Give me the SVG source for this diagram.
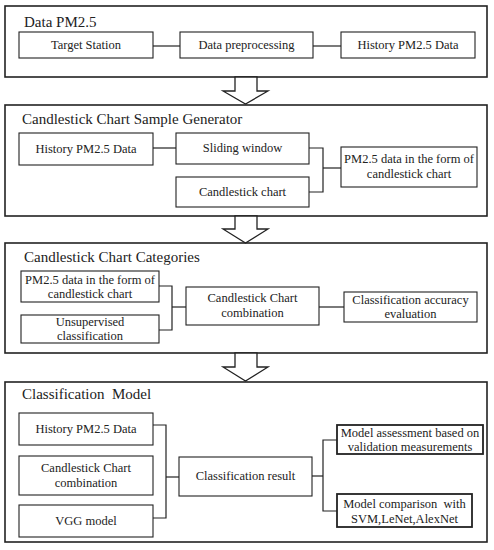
<svg xmlns="http://www.w3.org/2000/svg" width="494" height="550" viewBox="0 0 494 550" font-family="Liberation Serif, DejaVu Serif, serif">
<style>
.panel{fill:#fff;stroke:#222;stroke-width:1.6}
.box{fill:#fff;stroke:#222;stroke-width:1.1}
.bold{fill:#fff;stroke:#222;stroke-width:1.8}
.conn{fill:none;stroke:#222;stroke-width:1.2}
.arrow{fill:#fff;stroke:#222;stroke-width:1.3;stroke-linejoin:miter}
text{font-family:'Liberation Serif','DejaVu Serif',serif;fill:#222}
.t{font-size:15px}
.l{font-size:12.5px;text-anchor:middle}
</style>
<rect width="494" height="550" fill="#fff"/>

<g id="panel1">
<rect class="panel" x="5" y="6" width="482" height="71"/>
<text class="t" x="24" y="27">Data PM2.5</text>
</g>
<g id="target-station"><rect class="box" x="19" y="32" width="134" height="26"/><text class="l" x="86" y="49">Target Station</text></g>
<g id="data-preprocessing"><rect class="box" x="180" y="32" width="133" height="26"/><text class="l" x="246.5" y="49">Data preprocessing</text></g>
<g id="history-1"><rect class="box" x="341" y="32" width="134" height="26"/><text class="l" x="408" y="49">History PM2.5 Data</text></g>

<g id="panel2">
<rect class="panel" x="5" y="105" width="482" height="111"/>
<text class="t" x="22" y="124">Candlestick Chart Sample Generator</text>
</g>
<g id="history-2"><rect class="box" x="19" y="133" width="134" height="32"/><text class="l" x="86" y="153">History PM2.5 Data</text></g>
<g id="sliding-window"><rect class="box" x="176" y="133" width="133" height="31"/><text class="l" x="242.5" y="152">Sliding window</text></g>
<g id="candlestick-chart"><rect class="box" x="176" y="177" width="133" height="30"/><text class="l" x="242.5" y="196">Candlestick chart</text></g>
<g id="pm25-form-1"><rect class="box" x="341" y="147" width="136" height="40"/><text class="l" x="409" y="163">PM2.5 data in the form of</text><text class="l" x="409" y="178">candlestick chart</text></g>

<g id="panel3">
<rect class="panel" x="5" y="243" width="482" height="110"/>
<text class="t" x="24" y="262">Candlestick Chart Categories</text>
</g>
<g id="pm25-form-2"><rect class="box" x="21" y="271" width="138" height="31"/><text class="l" x="90" y="284">PM2.5 data in the form of</text><text class="l" x="90" y="298">candlestick chart</text></g>
<g id="unsupervised"><rect class="box" x="21" y="315" width="138" height="28"/><text class="l" x="90" y="326">Unsupervised</text><text class="l" x="90" y="340">classification</text></g>
<g id="combination-1"><rect class="box" x="186" y="287" width="133" height="38"/><text class="l" x="252.5" y="302">Candlestick Chart</text><text class="l" x="252.5" y="317">combination</text></g>
<g id="accuracy"><rect class="box" x="344" y="292" width="133" height="30"/><text class="l" x="410.5" y="304">Classification accuracy</text><text class="l" x="410.5" y="318">evaluation</text></g>

<g id="panel4">
<rect class="panel" x="5" y="382" width="482" height="160"/>
<text class="t" x="22" y="399" xml:space="preserve">Classification  Model</text>
</g>
<g id="history-3"><rect class="box" x="19" y="413" width="134" height="32"/><text class="l" x="86" y="433">History PM2.5 Data</text></g>
<g id="combination-2"><rect class="box" x="19" y="456" width="134" height="39"/><text class="l" x="86" y="472">Candlestick Chart</text><text class="l" x="86" y="487">combination</text></g>
<g id="vgg"><rect class="box" x="19" y="505" width="134" height="32"/><text class="l" x="86" y="525">VGG model</text></g>
<g id="classification-result"><rect class="box" x="179" y="457" width="133" height="39"/><text class="l" x="245.5" y="480">Classification result</text></g>
<g id="model-assessment"><rect class="bold" x="337" y="425" width="146" height="29"/><text class="l" x="410" y="437">Model assessment based on</text><text class="l" x="410" y="451">validation measurements</text></g>
<g id="model-comparison"><rect class="bold" x="337" y="494" width="135" height="33"/><text class="l" x="404.5" y="508" xml:space="preserve">Model comparison  with</text><text class="l" x="404.5" y="523">SVM,LeNet,AlexNet</text></g>

<g id="arrows">
<polygon class="arrow" points="235,77 235,91 223,91 245.5,104 268,91 257,91 257,77"/>
<polygon class="arrow" points="235,216 235,229 223,229 245.5,243 268,229 257,229 257,216"/>
<polygon class="arrow" points="235,353 235,367 223,367 245.5,381 268,367 257,367 257,353"/>
</g>

<g id="connectors">
<line class="conn" x1="153" y1="46" x2="180" y2="46"/>
<line class="conn" x1="313" y1="46" x2="341" y2="46"/>
<line class="conn" x1="153" y1="148" x2="176" y2="148"/>
<polyline class="conn" points="309,148 323,148 323,192 309,192"/>
<line class="conn" x1="323" y1="168" x2="341" y2="168"/>
<polyline class="conn" points="159,286 172,286 172,330 159,330"/>
<line class="conn" x1="172" y1="307" x2="186" y2="307"/>
<line class="conn" x1="319" y1="307" x2="344" y2="307"/>
<polyline class="conn" points="153,425 166,425 166,518 153,518"/>
<line class="conn" x1="166" y1="477" x2="179" y2="477"/>
<line class="conn" x1="312" y1="476" x2="323" y2="476"/>
<polyline class="conn" points="337,440 323,440 323,511 337,511"/>
</g>
</svg>
